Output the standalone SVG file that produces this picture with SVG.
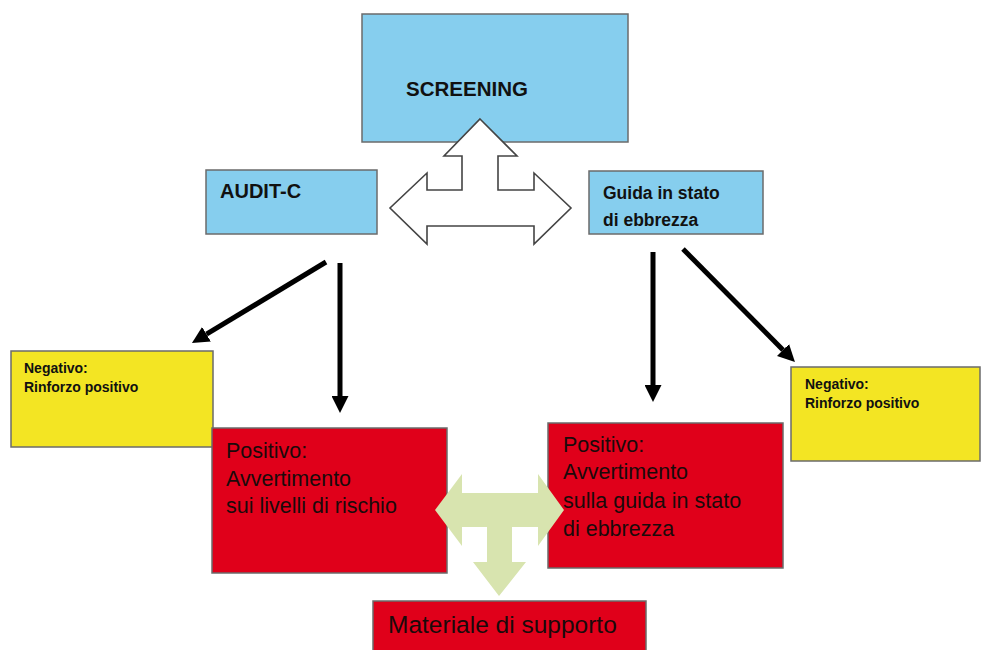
<svg xmlns="http://www.w3.org/2000/svg" width="983" height="650" viewBox="0 0 983 650">
<defs>
<style>
.box{stroke:#6b6b6b;stroke-width:1.5}
.blue{fill:#86CEEE}
.yellow{fill:#F3E523}
.red{fill:#E0001A}
.tb{font-family:"Liberation Sans",Arial,sans-serif;font-weight:bold;fill:#111}
.tr{font-family:"Liberation Sans",Arial,sans-serif;fill:#1a0a0a}
.conn{stroke:#000;stroke-width:5;fill:none;marker-end:url(#ah)}
</style>
<marker id="ah" markerUnits="userSpaceOnUse" markerWidth="17" markerHeight="17" refX="0" refY="8.5" orient="auto" viewBox="0 0 17 17">
<path d="M0,0 L17,8.5 L0,17 z" fill="#000"/>
</marker>
</defs>
<rect width="983" height="650" fill="#fff"/>

<g id="screening">
<rect class="box blue" x="362" y="14" width="266" height="128"/>
<text class="tb" x="406" y="96" font-size="20.5">SCREENING</text>
</g>

<g id="audit-c">
<rect class="box blue" x="206" y="170" width="171" height="64"/>
<text class="tb" x="220" y="198" font-size="20">AUDIT-C</text>
</g>

<g id="guida">
<rect class="box blue" x="589" y="171" width="174" height="63"/>
<text class="tb" x="603" y="199" font-size="17.5">Guida in stato</text>
<text class="tb" x="603" y="226" font-size="17.5">di ebbrezza</text>
</g>

<g id="neg-left">
<rect class="box yellow" x="11" y="351" width="202" height="96"/>
<text class="tb" x="24" y="373" font-size="14">Negativo:</text>
<text class="tb" x="24" y="392" font-size="14">Rinforzo positivo</text>
</g>

<g id="neg-right">
<rect class="box yellow" x="791" y="367" width="189" height="94"/>
<text class="tb" x="805" y="389" font-size="14">Negativo:</text>
<text class="tb" x="805" y="408" font-size="14">Rinforzo positivo</text>
</g>

<g id="pos-left">
<rect class="box red" x="212" y="428" width="235" height="145"/>
<text class="tr" x="226" y="458" font-size="21.5">Positivo:</text>
<text class="tr" x="226" y="486" font-size="21.5">Avvertimento</text>
<text class="tr" x="226" y="513" font-size="21.5">sui livelli di rischio</text>
</g>

<g id="pos-right">
<rect class="box red" x="548" y="423" width="235" height="145"/>
<text class="tr" x="563" y="452" font-size="21.5">Positivo:</text>
<text class="tr" x="563" y="479" font-size="21.5">Avvertimento</text>
<text class="tr" x="563" y="508" font-size="21.5">sulla guida in stato</text>
<text class="tr" x="563" y="536" font-size="21.5">di ebbrezza</text>
</g>

<g id="materiale">
<rect class="box red" x="373" y="601" width="273" height="60"/>
<text class="tr" x="388" y="633" font-size="24.5">Materiale di supporto</text>
</g>

<g id="connectors">
<path id="hollow-arrow" d="M480,119 L517,156 L498,156 L498,190 L534,190 L534,173 L571,208 L534,244 L534,226 L427,226 L427,244 L390,208 L427,173 L427,190 L462,190 L462,156 L444,156 Z" fill="#fff" stroke="#444" stroke-width="1.6" stroke-linejoin="miter"/>
<path id="green-arrow" d="M435,510 L462,474 L462,493 L538,493 L538,474 L564,510 L538,546 L538,527 L512,527 L512,562 L526,562 L499,596 L473,562 L487,562 L487,527 L462,527 L462,546 Z" fill="#D8E4AF"/>
<line class="conn" x1="326" y1="262" x2="206.5" y2="334.2"/>
<line class="conn" x1="340" y1="263" x2="340" y2="396"/>
<line class="conn" x1="653" y1="252" x2="653" y2="385"/>
<line class="conn" x1="683" y1="249" x2="783" y2="350"/>
</g>
</svg>
